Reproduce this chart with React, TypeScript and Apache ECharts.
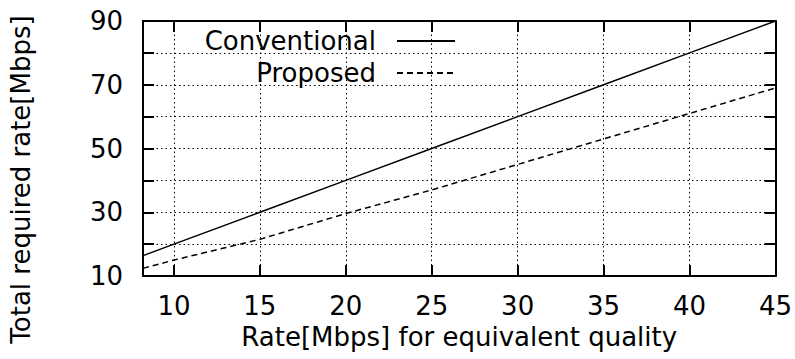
import React, { useEffect, useRef } from "react";
import * as echarts from "echarts";

const xValues = [8.2, 10, 15, 20, 25, 30, 35, 40, 45];
const conventional = [16.4, 20, 30, 40, 50, 60, 70, 80, 90];
const proposed = [12.4, 15, 21.5, 29.6, 37, 45, 53, 61, 69];
const xTicks = [10, 15, 20, 25, 30, 35, 40, 45];
const yLabels = [10, 30, 50, 70, 90];
const xTitle = "Rate[Mbps] for equivalent quality";
const yTitle = "Total required rate[Mbps]";
const seriesNames = ["Conventional", "Proposed"];

const FONT = "DejaVu Sans";

export default function App() {
  const ref = useRef<HTMLDivElement>(null);
  useEffect(() => {
    if (!ref.current) return;
    const chart = echarts.init(ref.current, undefined, { renderer: "svg" });
    const axisLine = { show: true, onZero: false, lineStyle: { color: "#000", width: 2 } };
    const split = { show: true, lineStyle: { color: "#000", width: 1, type: [1.5, 3] as any } };
    const tick = { show: true, inside: true, length: 11, lineStyle: { color: "#000", width: 2 } };
    const xBase = {
      type: "value" as const,
      min: 8.2,
      max: 45,
      axisLine,
    };
    const yBase = {
      type: "value" as const,
      min: 10,
      max: 90,
      interval: 10,
      axisLine,
    };
    chart.setOption({
      animation: false,
      backgroundColor: "#fff",
      grid: { left: 143, right: 19, top: 21, bottom: 83 },
      legend: {
        right: 339,
        top: 28,
        orient: "vertical",
        align: "right",
        padding: 0,
        itemWidth: 58,
        itemHeight: 26,
        itemGap: 6,
        itemStyle: { opacity: 0, color: "transparent", borderWidth: 0 },
        textStyle: { fontFamily: FONT, fontSize: 26, color: "#000", lineHeight: 26, padding: [0, 16, 0, 0] },
        data: seriesNames,
      },
      graphic: [
        {
          type: "text",
          left: 8,
          top: "middle",
          y: 26,
          rotation: Math.PI / 2,
          style: { text: yTitle, fontFamily: FONT, fontSize: 26, fill: "#000" },
        },
      ],
      xAxis: [
        {
          ...xBase,
          position: "bottom",
          name: xTitle,
          nameLocation: "middle",
          nameGap: 47,
          nameTextStyle: { fontFamily: FONT, fontSize: 26, color: "#000" },
          axisTick: { ...tick, customValues: xTicks },
          axisLabel: { customValues: xTicks, fontFamily: FONT, fontSize: 26, color: "#000", margin: 17 },
          splitLine: split,
        },
        {
          ...xBase,
          position: "top",
          axisTick: { ...tick, customValues: xTicks },
          axisLabel: { show: false, customValues: xTicks },
          splitLine: { show: false },
        },
      ],
      yAxis: [
        {
          ...yBase,
          position: "left",
          axisTick: tick,
          axisLabel: { customValues: yLabels, fontFamily: FONT, fontSize: 26, color: "#000", margin: 20 },
          splitLine: split,
        },
        {
          ...yBase,
          position: "right",
          axisTick: tick,
          axisLabel: { show: false },
          splitLine: { show: false },
        },
      ],
      series: [
        {
          name: seriesNames[0],
          type: "line",
          data: xValues.map((x, i) => [x, conventional[i]]),
          symbol: "none",
          lineStyle: { color: "#000", width: 1.5, type: "solid" },
          itemStyle: { color: "#000" },
        },
        {
          name: seriesNames[1],
          type: "line",
          data: xValues.map((x, i) => [x, proposed[i]]),
          symbol: "none",
          lineStyle: { color: "#000", width: 1.5, type: [6, 4] },
          itemStyle: { color: "#000" },
        },
      ],
    });
    return () => chart.dispose();
  }, []);
  return <div ref={ref} style={{ width: 795, height: 359, position: "absolute", left: 0, top: 0 }} />;
}
